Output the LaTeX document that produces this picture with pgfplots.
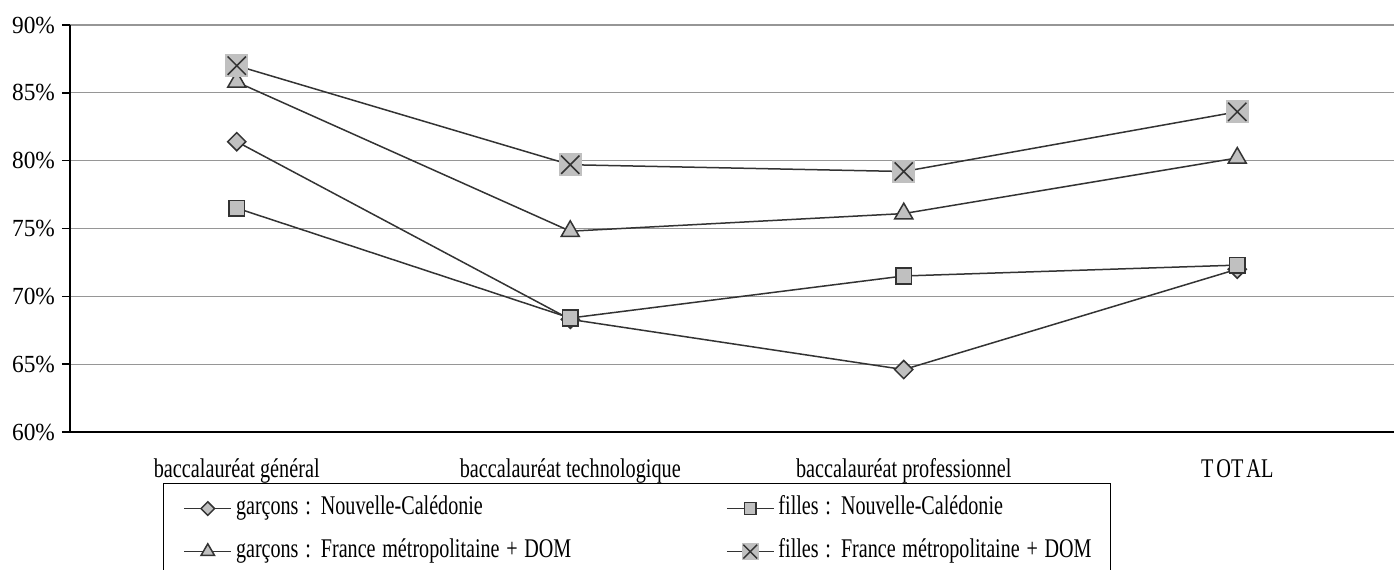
\documentclass[border=0pt]{standalone}
\usepackage{fontspec}
\setmainfont{Liberation Serif}
\newfontfamily\tickfont{Liberation Serif}[FakeStretch=0.95]
\usepackage{pgfplots}
\pgfplotsset{compat=1.18}

\definecolor{markgray}{RGB}{192,192,192}
\definecolor{linegray}{RGB}{51,51,51}
\definecolor{gridgray}{RGB}{150,150,150}

% narrow text, as the spreadsheet draws it
\newcommand{\cat}[1]{\scalebox{0.75}[1]{#1}}
\newcommand{\leg}[1]{\scalebox{0.745}[1]{#1}}

% gray box with a cross
\pgfdeclareplotmark{boxx}{%
  \pgfpathrectangle{\pgfqpoint{-\pgfplotmarksize}{-\pgfplotmarksize}}{\pgfqpoint{2\pgfplotmarksize}{2\pgfplotmarksize}}%
  \pgfsetfillcolor{markgray}\pgfusepath{fill}%
  \pgfpathmoveto{\pgfqpoint{-.8\pgfplotmarksize}{-.8\pgfplotmarksize}}%
  \pgfpathlineto{\pgfqpoint{.8\pgfplotmarksize}{.8\pgfplotmarksize}}%
  \pgfpathmoveto{\pgfqpoint{-.8\pgfplotmarksize}{.8\pgfplotmarksize}}%
  \pgfpathlineto{\pgfqpoint{.8\pgfplotmarksize}{-.8\pgfplotmarksize}}%
  \pgfusepath{stroke}}

\begin{document}
\begin{tikzpicture}
\begin{axis}[
  name=ax,
  scale only axis,
  width=662pt, height=203.5pt,
  xmin=-0.5, xmax=3.47,
  ymin=60, ymax=90,
  axis x line*=bottom, axis y line*=left,
  axis line style={-, black, line width=0.8pt},
  xtick={0,1,2,3},
  xticklabels={\cat{baccalauréat général}, \cat{baccalauréat technologique}, \cat{baccalauréat professionnel}, \cat{T\kern2pt OT\kern2pt AL}},
  x tick label style={font=\fontsize{13.5}{13.5}\selectfont, anchor=base, yshift=-19pt},
  major x tick style={draw=none},
  extra x ticks={-0.5,0.5,1.5,2.5},
  extra x tick labels={},
  extra x tick style={major tick length=4pt, tick style={black, line width=0.8pt}},
  tick align=outside,
  ytick={60,65,...,90},
  yticklabel={\pgfmathprintnumber{\tick}\%},
  y tick label style={font=\tickfont\fontsize{12.3}{12.3}\selectfont},
  /pgf/number format/assume math mode=true,
  major y tick style={black, line width=0.8pt},
  major tick length=4pt,
  ymajorgrids=true,
  major grid style={gridgray, line width=0.6pt},
  every axis plot/.append style={line width=0.75pt, draw=linegray},
  legend columns=2,
  legend cell align=left,
  legend image code/.code={%
    \draw[mark repeat=2, mark phase=2, #1, line width=0.9pt, /tikz/every mark/.append style={scale=0.75}]
      plot coordinates {(0cm,0cm) (0.41cm,0cm) (0.82cm,0cm)};},
  legend style={
    at={(0.0702,0)}, anchor=north west, yshift=-25.5pt,
    draw=black, line width=0.6pt, fill=none,
    inner xsep=10pt, inner ysep=5pt,
    row sep=6.5pt,
    font=\fontsize{13.5}{13.5}\selectfont,
    nodes={text width=154pt, inner ysep=2pt, text height=8.5pt, text depth=2.5pt},
    /tikz/every even column/.append style={column sep=89pt},
  },
]
\addplot[mark=square*, mark size=3.2pt, mark options={rotate=45, fill=markgray, draw=linegray, line width=0.75pt}]
  coordinates {(0,81.4) (1,68.3) (2,64.6) (3,72.0)};
\addlegendentry{\leg{garçons : Nouvelle-Calédonie}}
\addplot[mark=square*, mark size=3.9pt, mark options={fill=markgray, draw=linegray, line width=0.75pt}]
  coordinates {(0,76.5) (1,68.4) (2,71.5) (3,72.3)};
\addlegendentry{\leg{filles : Nouvelle-Calédonie}}
\addplot[mark=triangle*, mark size=5.2pt, mark options={fill=markgray, draw=linegray, line width=0.75pt}]
  coordinates {(0,85.8) (1,74.8) (2,76.1) (3,80.2)};
\addlegendentry{\leg{garçons : France métropolitaine + DOM}}
\addplot[mark=boxx, mark size=5.7pt, mark options={draw=linegray, line width=0.75pt}]
  coordinates {(0,87.0) (1,79.7) (2,79.2) (3,83.6)};
\addlegendentry{\leg{filles : France métropolitaine + DOM}}
\end{axis}
\pgfresetboundingbox
\path[use as bounding box] ([xshift=-35pt, yshift=-69pt]ax.south west) rectangle ([yshift=12.5pt]ax.north east);
\end{tikzpicture}
\end{document}
